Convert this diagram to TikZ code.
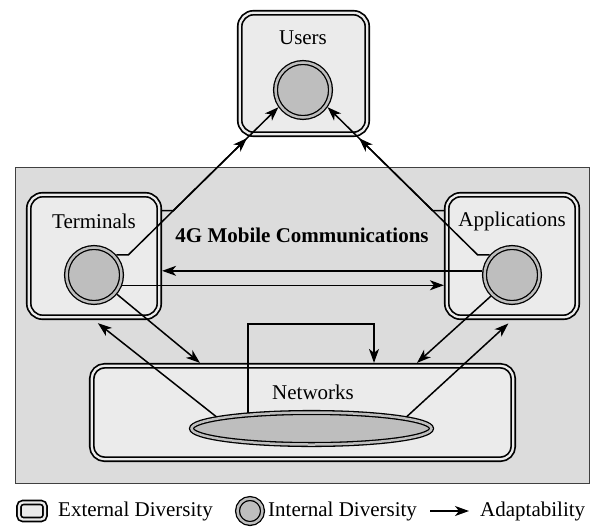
\documentclass[tikz,border=0pt]{standalone}
\usepackage{fontspec}
\setmainfont{Liberation Serif}
\usetikzlibrary{calc,arrows.meta,shapes.geometric}
\definecolor{panel}{HTML}{DCDCDC}
\definecolor{boxfill}{HTML}{EBEBEB}
\definecolor{core}{HTML}{BEBEBE}
\tikzset{
  extbox/.style={draw=black, line width=1.7pt, double=boxfill, double distance=2.3pt,
    fill=boxfill, rounded corners=14pt, inner sep=0pt, outer sep=2.85pt},
  intring/.style={draw=black, line width=1.3pt, double=core, double distance=2.5pt,
    fill=core, inner sep=0pt, outer sep=2.5pt},
  intcore/.style={intring, circle, minimum size=55pt},
  intflat/.style={intring, ellipse, minimum width=240pt, minimum height=32pt},
  adapt/.style={-{Stealth[length=14pt,width=10pt,inset=4pt]}, line width=1.5pt},
  lbl/.style={font=\fontsize{21}{25}\selectfont},
}

\begin{document}
\begin{tikzpicture}[x=1pt,y=-1pt]
\useasboundingbox (0,0) rectangle (593,527);
\draw[fill=panel, draw=black!75, line width=1pt] (15,167) rectangle (589,483);

\node[extbox, minimum width=127.5pt, minimum height=121.5pt] (ubox) at (303.5,73.5) {};
\node[lbl] (ulab) at (303,38) {Users};
\node[intcore] (ucirc) at (303,90) {};
\foreach \s/\x/\t in {t/94/Terminals, a/512/Applications}{
  \node[extbox, minimum width=130.5pt, minimum height=122.5pt] (\s box) at (\x,256) {};
  \node[lbl] (\s lab) at (\x,221) {\t};
  \node[intcore] (\s circ) at (\x,275) {};
}
\node[extbox, rounded corners=13pt, minimum width=421.5pt, minimum height=93.5pt] (nbox) at (302.5,412.5) {};
\node[lbl] (nlab) at (313,392) {Networks};
\node[intflat] (nell) at (311.5,428.5) {};
\node[lbl, font=\fontsize{21}{25}\selectfont\bfseries] (title) at (302,235) {4G Mobile Communications};

\coordinate (ta) at ([xshift=12pt]tcirc.42);
\coordinate (aa) at ([xshift=-12pt]acirc.138);
\draw[adapt] (tcirc.42) -- (ta) -- (ucirc.215);
\draw[adapt] (acirc.138) -- (aa) -- (ucirc.325);
\coordinate (tb) at ($(ta)!0.3!(ucirc.215)$);
\coordinate (ab) at ($(aa)!0.3!(ucirc.325)$);
\draw[adapt] (tbox.east |- tb) -- (tb) -- ($(ta)!0.79!(ucirc.215)$);
\draw[adapt] (abox.west |- ab) -- (ab) -- ($(aa)!0.79!(ucirc.325)$);

\draw[adapt] (acirc.172) -- (acirc.172 -| tbox.east);
\draw[adapt] (tcirc.340) -- (tcirc.340 -| abox.west);

\draw[adapt] (tcirc.-40) -- ($(nbox.north west)!0.26!(nbox.north east)$);
\draw[adapt] (acirc.225) -- ($(nbox.north west)!0.768!(nbox.north east)$);
\draw[adapt, shorten >=5pt] (nell.173) -- (tbox.south);
\draw[adapt, shorten >=5pt] (nell.7) -- (abox.south);
\coordinate (nl) at (374,324);
\draw[adapt] (nell.166) |- (nl) -- (nl |- nbox.north);

\node[extbox, rounded corners=4pt, minimum width=26pt, minimum height=17pt] (kext) at (32,511) {};
\node[lbl, anchor=west, inner sep=0pt] (kextl) at (58,511) {External Diversity};
\node[intcore, minimum size=25pt] (kint) at (250,511) {};
\node[lbl, anchor=west, inner sep=0pt] (kintl) at (268,511) {Internal Diversity};
\coordinate (ka) at (430,511);
\node[lbl, anchor=west, inner sep=0pt] (kadl) at (480,511) {Adaptability};
\draw[adapt, shorten >=11pt] (ka) -- (kadl.west);
\end{tikzpicture}
\end{document}
